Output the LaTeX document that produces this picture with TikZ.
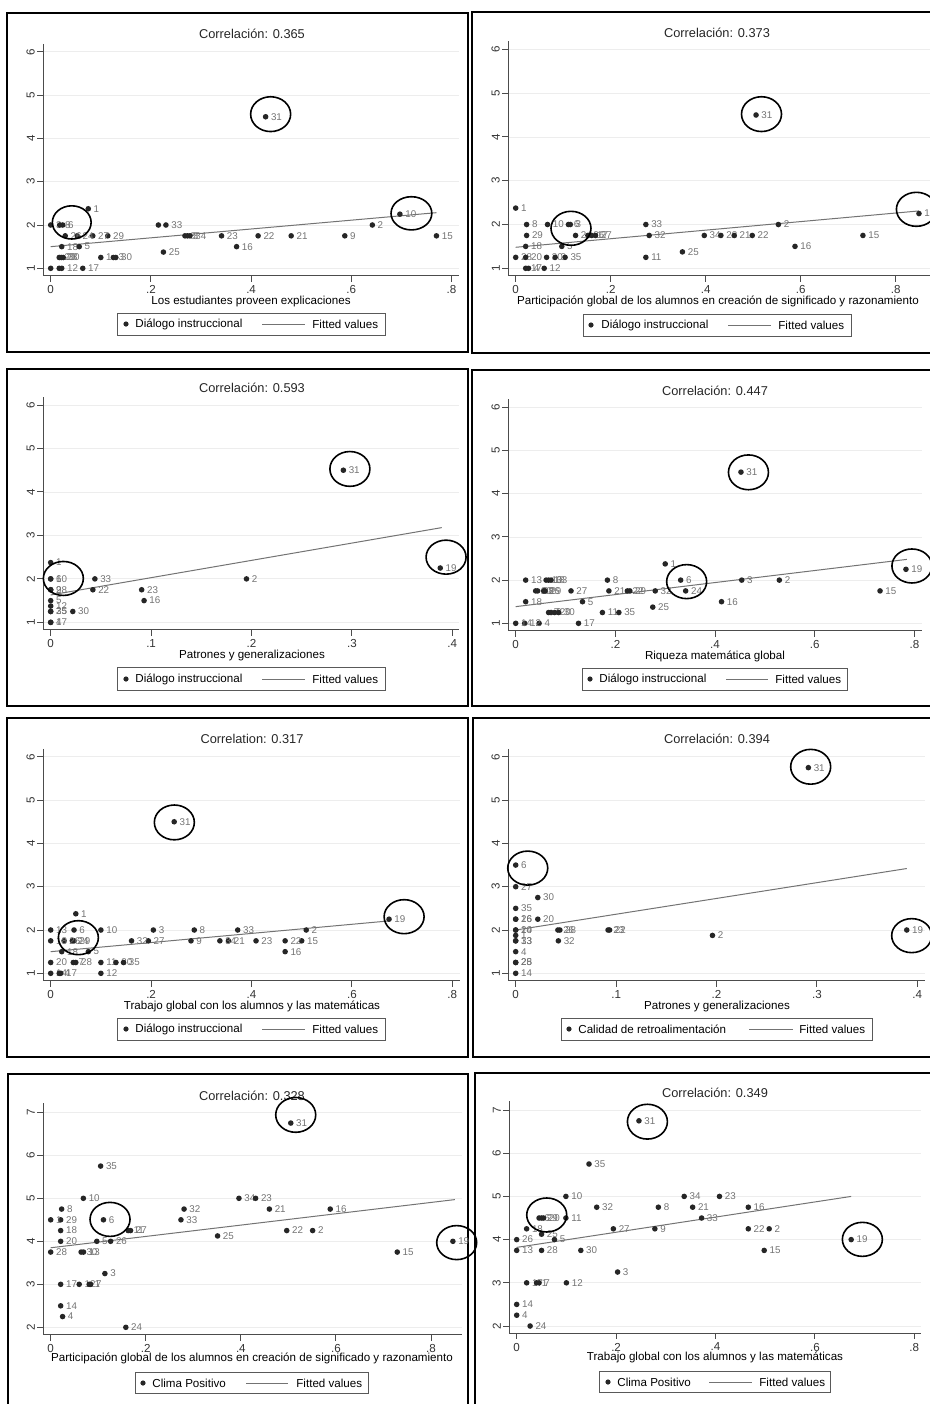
\documentclass[tikz,border=0pt]{standalone}
\usepackage{fontspec}
\setmainfont{Liberation Sans}
\tikzset{
  frame/.style={draw=black, line width=0.9pt},
  ttl/.style={font=\fontsize{6.4}{7.5}\selectfont, text=black!85},
  grd/.style={draw=black!7, line width=0.4pt},
  ax/.style={draw=black!70, line width=0.5pt},
  fitline/.style={draw=black!55, line width=0.5pt},
  ring/.style={draw=black, line width=0.8pt},
  lbl/.style={font=\fontsize{4.9}{5.5}\selectfont, text=black!55, anchor=west, inner sep=0pt, xshift=2.5pt},
  ylab/.style={rotate=90, anchor=south, inner sep=1pt, text=black!80},
  xlab/.style={below, inner sep=1.5pt, text=black!80},
  legbox/.style={draw=black!65, line width=0.5pt},
  legtxt/.style={anchor=west, inner sep=0pt},
}
\begin{document}
\begin{tikzpicture}[x=0.5pt, y=-0.5pt, font=\fontsize{5.8}{7}\selectfont]
\useasboundingbox (0,0) rectangle (930,1404);

% panel 1
\draw[frame] (7,13) rectangle (468,352);
\node[ttl] (t1) at (252,34) {Correlación: 0.365};
\node (xt1) at (251,301) {Los estudiantes proveen explicaciones};
\draw[legbox] (117,313) rectangle (385,335);
\fill[black!85] (126,324) circle (1.3pt);
\node[legtxt] (lg1) at (135,324) {Diálogo instruccional};
\draw[fitline] (262,324) -- (305,324);
\node[legtxt] (lf1) at (312,324) {Fitted values};
\begin{scope}[shift={(50.7,311.6)}, x=250.5pt, y=21.65pt]
\foreach \v in {1,...,6} {
  \draw[grd] ([xshift=-3.7pt]0,\v) -- (0.815,\v);
  \draw[ax] ([xshift=-3.7pt]0,\v) -- ++(-3pt,0) node[ylab] {\v};
}
\foreach \v/\t in {0/0,0.2/.2,0.4/.4,0.6/.6,0.8/.8}
  \draw[ax] ([yshift=-3.7pt]\v,1) -- ++(0,-3pt) node[xlab] {\t};
\draw[ax] ([shift={(-3.7pt,4pt)}]0,6) -- ([shift={(-3.7pt,-3.7pt)}]0,1) -- ([yshift=-3.7pt]0.815,1);
\draw[fitline] (0,1.5) -- (0.77,2.285);
\foreach \a/\b/\l in {0.429/4.5/31,0.075/2.375/1,0.697/2.25/10,0.642/2/2,0.770/1.75/15,0.587/1.75/9,
  0.48/1.75/21,0.414/1.75/22,0.341/1.75/23,0.371/1.5/16,0.225/1.375/25,0.215/2/,0.23/2/33,
  0.268/1.75/8,0.273/1.75/3,0.278/1.75/34,0.114/1.75/29,0.084/1.75/27,0.053/1.75/24,0.029/1.75/26,
  0/2/3,0.018/2/8,0.024/2/6,0.022/1.5/18,0.057/1.5/5,0.017/1.25/20,0.021/1.25/28,0.025/1.25/30,
  0.1/1.25/1,0.125/1.25/3,0.13/1.25/30,0/1/,0.017/1/,0.022/1/12,0.064/1/17}
  \fill[black!85] (\a,\b) circle (1.4pt) node[lbl] {\l};
\draw[ring] (0.439,4.56) ellipse [x radius=10pt, y radius=8.7pt];
\draw[ring] (0.042,2.06) ellipse [x radius=9.7pt, y radius=8.3pt];
\draw[ring] (0.72,2.27) ellipse [x radius=10.2pt, y radius=8.3pt];
\end{scope}

% panel 2
\draw[frame] (472,12) rectangle (934,353);
\node[ttl] (t2) at (717,33) {Correlación: 0.373};
\node (xt2) at (718,301) {Participación global de los alumnos en creación de significado y razonamiento};
\draw[legbox] (583,314) rectangle (851,336);
\fill[black!85] (591,325) circle (1.3pt);
\node[legtxt] (lg2) at (601,325) {Diálogo instruccional};
\draw[fitline] (728,325) -- (771,325);
\node[legtxt] (lf2) at (778,325) {Fitted values};
\begin{scope}[shift={(515.7,312.1)}, x=237.5pt, y=21.9pt]
\foreach \v in {1,...,6} {
  \draw[grd] ([xshift=-3.7pt]0,\v) -- (0.9,\v);
  \draw[ax] ([xshift=-3.7pt]0,\v) -- ++(-3pt,0) node[ylab] {\v};
}
\foreach \v/\t in {0/0,0.2/.2,0.4/.4,0.6/.6,0.8/.8}
  \draw[ax] ([yshift=-3.7pt]\v,1) -- ++(0,-3pt) node[xlab] {\t};
\draw[ax] ([shift={(-3.7pt,4pt)}]0,6) -- ([shift={(-3.7pt,-3.7pt)}]0,1) -- ([yshift=-3.7pt]0.9,1);
\draw[fitline] (0,1.48) -- (0.849,2.31);
\foreach \a/\b/\l in {0.506/4.5/31,0.849/2.25/19,0/2.375/1,0.023/2/8,0.067/2/10,0.111/2/6,0.115/2/3,
  0.023/1.75/29,0.126/1.75/24,0.152/1.75/26,0.16/1.75/17,0.168/1.75/27,0.274/2/33,0.281/1.75/32,
  0.397/1.75/34,0.432/1.75/23,0.46/1.75/21,0.498/1.75/22,0.553/2/2,0.731/1.75/15,0.588/1.5/16,
  0.351/1.375/25,0.274/1.25/11,0.021/1.5/18,0.097/1.5/5,0/1.25/28,0.021/1.25/20,0.065/1.25/30,
  0.083/1.25/3,0.104/1.25/35,0.021/1/17,0.027/1/4,0.06/1/12}
  \fill[black!85] (\a,\b) circle (1.4pt) node[lbl] {\l};
\draw[ring] (0.5175,4.52) ellipse [x radius=10pt, y radius=8.7pt];
\draw[ring] (0.1164,1.913) ellipse [x radius=10pt, y radius=8.5pt];
\draw[ring] (0.8436,2.347) ellipse [x radius=10pt, y radius=8.5pt];
\end{scope}

% panel 3
\draw[frame] (7,369) rectangle (468,706);
\node[ttl] (t3) at (252,388) {Correlación: 0.593};
\node (xt3) at (252,655) {Patrones y generalizaciones};
\draw[legbox] (117,667) rectangle (385,690);
\fill[black!85] (126,679) circle (1.3pt);
\node[legtxt] (lg3) at (135,679) {Diálogo instruccional};
\draw[fitline] (262,679) -- (305,679);
\node[legtxt] (lf3) at (312,679) {Fitted values};
\begin{scope}[shift={(50.7,665.8)}, x=502pt, y=21.73pt]
\foreach \v in {1,...,6} {
  \draw[grd] ([xshift=-3.7pt]0,\v) -- (0.407,\v);
  \draw[ax] ([xshift=-3.7pt]0,\v) -- ++(-3pt,0) node[ylab] {\v};
}
\foreach \v/\t in {0/0,0.1/.1,0.2/.2,0.3/.3,0.4/.4}
  \draw[ax] ([yshift=-3.7pt]\v,1) -- ++(0,-3pt) node[xlab] {\t};
\draw[ax] ([shift={(-3.7pt,4pt)}]0,6) -- ([shift={(-3.7pt,-3.7pt)}]0,1) -- ([yshift=-3.7pt]0.407,1);
\draw[fitline] (0,1.63) -- (0.3895,3.18);
\foreach \a/\b/\l in {0.2915/4.5/31,0.388/2.25/19,0.195/2/2,0.044/2/33,0.042/1.75/22,0.0906/1.75/23,
  0.093/1.5/16,0.022/1.25/30,0/2.375/1,0/2/6,0/2/10,0/1.75/28,0/1.75/9,0/1.5/5,0/1.375/12,
  0/1.25/25,0/1.25/35,0/1/4,0/1/17}
  \fill[black!85] (\a,\b) circle (1.4pt) node[lbl] {\l};
\draw[ring] (0.298,4.53) ellipse [x radius=10pt, y radius=8.7pt];
\draw[ring] (0.3938,2.5) ellipse [x radius=10pt, y radius=8.5pt];
\draw[ring] (0.0126,2.01) ellipse [x radius=10pt, y radius=8.5pt];
\end{scope}

% panel 4
\draw[frame] (472,370) rectangle (934,706);
\node[ttl] (t4) at (715,391) {Correlación: 0.447};
\node (xt4) at (715,656) {Riqueza matemática global};
\draw[legbox] (582,668) rectangle (847,690);
\fill[black!85] (590,679) circle (1.3pt);
\node[legtxt] (lg4) at (599,679) {Diálogo instruccional};
\draw[fitline] (726,679) -- (768,679);
\node[legtxt] (lf4) at (775,679) {Fitted values};
\begin{scope}[shift={(515.7,666.5)}, x=249.2pt, y=21.6pt]
\foreach \v in {1,...,6} {
  \draw[grd] ([xshift=-3.7pt]0,\v) -- (0.815,\v);
  \draw[ax] ([xshift=-3.7pt]0,\v) -- ++(-3pt,0) node[ylab] {\v};
}
\foreach \v/\t in {0/0,0.2/.2,0.4/.4,0.6/.6,0.8/.8}
  \draw[ax] ([yshift=-3.7pt]\v,1) -- ++(0,-3pt) node[xlab] {\t};
\draw[ax] ([shift={(-3.7pt,4pt)}]0,6) -- ([shift={(-3.7pt,-3.7pt)}]0,1) -- ([yshift=-3.7pt]0.815,1);
\draw[fitline] (0,1.386) -- (0.785,2.48);
\foreach \a/\b/\l in {0.452/4.5/31,0.783/2.25/19,0.3/2.375/1,0.331/2/6,0.4535/2/3,0.529/2/2,
  0.731/1.75/15,0.413/1.5/16,0.275/1.375/25,0.341/1.75/24,0.28/1.75/32,0.224/1.75/22,0.229/1.75/29,
  0.187/1.75/21,0.184/2/8,0.111/1.75/27,0.134/1.5/5,0.174/1.25/11,0.207/1.25/35,0.126/1/17,
  0.047/1/4,0.018/1/12,0/1/14,0.02/1.5/18,0.02/2/13,0.061/2/10,0.066/2/18,0.071/2/33,
  0.04/1.75/20,0.044/1.75/28,0.056/1.75/26,0.059/1.75/29,0.066/1.25/7,0.071/1.25/9,
  0.078/1.25/20,0.086/1.25/30}
  \fill[black!85] (\a,\b) circle (1.4pt) node[lbl] {\l};
\draw[ring] (0.467,4.495) ellipse [x radius=10pt, y radius=8.7pt];
\draw[ring] (0.343,1.965) ellipse [x radius=10pt, y radius=8.5pt];
\draw[ring] (0.795,2.327) ellipse [x radius=10pt, y radius=8.5pt];
\end{scope}

% panel 5
\draw[frame] (7,718) rectangle (468,1057);
\node[ttl] (t5) at (252,739) {Correlation: 0.317};
\node (xt5) at (252,1006) {Trabajo global con los alumnos y las matemáticas};
\draw[legbox] (117,1018) rectangle (385,1040);
\fill[black!85] (126,1029) circle (1.3pt);
\node[legtxt] (lg5) at (135,1029) {Diálogo instruccional};
\draw[fitline] (262,1029) -- (305,1029);
\node[legtxt] (lf5) at (312,1029) {Fitted values};
\begin{scope}[shift={(50.7,1016.6)}, x=251pt, y=21.65pt]
\foreach \v in {1,...,6} {
  \draw[grd] ([xshift=-3.7pt]0,\v) -- (0.815,\v);
  \draw[ax] ([xshift=-3.7pt]0,\v) -- ++(-3pt,0) node[ylab] {\v};
}
\foreach \v/\t in {0/0,0.2/.2,0.4/.4,0.6/.6,0.8/.8}
  \draw[ax] ([yshift=-3.7pt]\v,1) -- ++(0,-3pt) node[xlab] {\t};
\draw[ax] ([shift={(-3.7pt,4pt)}]0,6) -- ([shift={(-3.7pt,-3.7pt)}]0,1) -- ([yshift=-3.7pt]0.815,1);
\draw[fitline] (0,1.5) -- (0.674,2.21);
\foreach \a/\b/\l in {0.246/4.5/31,0.674/2.25/19,0.05/2.375/1,0.509/2/2,0.3725/2/33,0.286/2/8,
  0.2045/2/3,0.1/2/10,0.0465/2/6,0/2/13,0.5/1.75/15,0.467/1.75/22,0.409/1.75/23,0.354/1.75/21,
  0.337/1.75/34,0.2795/1.75/9,0.1945/1.75/27,0.161/1.75/32,0.0465/1.75/29,0.043/1.75/24,
  0.0266/1.75/26,0/1.75/18,0.467/1.5/16,0.075/1.5/5,0.022/1.5/18,0/1.25/20,0.045/1.25/7,
  0.05/1.25/28,0.1/1.25/11,0.13/1.25/30,0.145/1.25/35,0/1/14,0.017/1/4,0.02/1/17,0.1/1/12}
  \fill[black!85] (\a,\b) circle (1.4pt) node[lbl] {\l};
\draw[ring] (0.2463,4.485) ellipse [x radius=10pt, y radius=8.7pt];
\draw[ring] (0.0551,1.823) ellipse [x radius=10pt, y radius=8.5pt];
\draw[ring] (0.704,2.308) ellipse [x radius=10pt, y radius=8.5pt];
\end{scope}

% panel 6
\draw[frame] (473,718) rectangle (934,1057);
\node[ttl] (t6) at (717,739) {Correlación: 0.394};
\node (xt6) at (717,1006) {Patrones y generalizaciones};
\draw[legbox] (561,1018) rectangle (872,1040);
\fill[black!85] (569,1029) circle (1.3pt);
\node[legtxt] (lg6) at (578,1029) {Calidad de retroalimentación};
\draw[fitline] (749,1029) -- (793,1029);
\node[legtxt] (lf6) at (799,1029) {Fitted values};
\begin{scope}[shift={(515.7,1016.6)}, x=502pt, y=21.65pt]
\foreach \v in {1,...,6} {
  \draw[grd] ([xshift=-3.7pt]0,\v) -- (0.408,\v);
  \draw[ax] ([xshift=-3.7pt]0,\v) -- ++(-3pt,0) node[ylab] {\v};
}
\foreach \v/\t in {0/0,0.1/.1,0.2/.2,0.3/.3,0.4/.4}
  \draw[ax] ([yshift=-3.7pt]\v,1) -- ++(0,-3pt) node[xlab] {\t};
\draw[ax] ([shift={(-3.7pt,4pt)}]0,6) -- ([shift={(-3.7pt,-3.7pt)}]0,1) -- ([yshift=-3.7pt]0.408,1);
\draw[fitline] (0,2.0) -- (0.3895,3.42);
\foreach \a/\b/\l in {0.2915/5.75/31,0.3895/2/19,0/3.5/6,0/3/27,0.022/2.75/30,0/2.5/35,
  0.022/2.25/20,0/2.25/16,0/2.25/26,0/2/10,0/2/24,0/1.875/1,0/1.75/33,0/1.75/13,0/1.5/4,
  0/1.25/28,0/1.25/25,0/1/14,0.042/2/26,0.044/2/28,0.0425/1.75/32,0.092/2/23,0.0935/2/22,
  0.196/1.875/2}
  \fill[black!85] (\a,\b) circle (1.4pt) node[lbl] {\l};
\draw[ring] (0.2938,5.77) ellipse [x radius=10pt, y radius=8.7pt];
\draw[ring] (0.012,3.43) ellipse [x radius=10pt, y radius=8.5pt];
\draw[ring] (0.3944,1.87) ellipse [x radius=10pt, y radius=8.5pt];
\end{scope}

% panel 7
\draw[frame] (8,1074) rectangle (468,1410);
\node[ttl] (t7) at (252,1096) {Correlación: 0.328};
\node (xt7) at (252,1358) {Participación global de los alumnos en creación de significado y razonamiento};
\draw[legbox] (135,1372) rectangle (368,1393);
\fill[black!85] (143,1383) circle (1.3pt);
\node[legtxt] (lg7) at (152,1383) {Clima Positivo};
\draw[fitline] (246,1383) -- (288,1383);
\node[legtxt] (lf7) at (296,1383) {Fitted values};
\begin{scope}[shift={(50.7,1413.3)}, x=237.7pt, y=21.5pt]
\foreach \v in {2,...,7} {
  \draw[grd] ([xshift=-3.7pt]0,\v) -- (0.865,\v);
  \draw[ax] ([xshift=-3.7pt]0,\v) -- ++(-3pt,0) node[ylab] {\v};
}
\foreach \v/\t in {0/0,0.2/.2,0.4/.4,0.6/.6,0.8/.8}
  \draw[ax] ([yshift=-3.7pt]\v,2) -- ++(0,-3pt) node[xlab] {\t};
\draw[ax] ([shift={(-3.7pt,4.5pt)}]0,7) -- ([shift={(-3.7pt,-3.7pt)}]0,2) -- ([yshift=-3.7pt]0.865,2);
\draw[fitline] (0,3.85) -- (0.85,4.97);
\foreach \a/\b/\l in {0.505/6.75/31,0.846/4/19,0.729/3.75/15,0.588/4.75/16,0.551/4.25/2,
  0.4965/4.25/22,0.46/4.75/21,0.396/5/34,0.431/5/23,0.351/4.125/25,0.2805/4.75/32,0.274/4.5/33,
  0.105/5.75/35,0.0687/5/10,0.111/4.5/6,0.163/4.25/11,0.168/4.25/27,0.126/4/26,0.097/4/5,
  0.023/4.75/8,0.021/4.5/29,0/4.5/1,0.021/4.25/18,0.021/4/20,0/3.75/28,0.064/3.75/30,
  0.069/3.75/13,0.114/3.25/3,0.021/3/17,0.06/3/12,0.081/3/1,0.084/3/7,0.021/2.5/14,
  0.025/2.25/4,0.158/2/24}
  \fill[black!85] (\a,\b) circle (1.4pt) node[lbl] {\l};
\draw[ring] (0.5154,6.94) ellipse [x radius=10pt, y radius=8.7pt];
\draw[ring] (0.1248,4.51) ellipse [x radius=10pt, y radius=8.5pt];
\draw[ring] (0.854,3.97) ellipse [x radius=10pt, y radius=8.5pt];
\end{scope}

% panel 8
\draw[frame] (475,1073) rectangle (934,1410);
\node[ttl] (t8) at (715,1093) {Correlación: 0.349};
\node (xt8) at (715,1357) {Trabajo global con los alumnos y las matemáticas};
\draw[legbox] (599,1371) rectangle (830,1392);
\fill[black!85] (608,1382) circle (1.3pt);
\node[legtxt] (lg8) at (617,1382) {Clima Positivo};
\draw[fitline] (709,1382) -- (752,1382);
\node[legtxt] (lf8) at (759,1382) {Fitted values};
\begin{scope}[shift={(516.7,1412.4)}, x=248.5pt, y=21.6pt]
\foreach \v in {2,...,7} {
  \draw[grd] ([xshift=-3.7pt]0,\v) -- (0.8135,\v);
  \draw[ax] ([xshift=-3.7pt]0,\v) -- ++(-3pt,0) node[ylab] {\v};
}
\foreach \v/\t in {0/0,0.2/.2,0.4/.4,0.6/.6,0.8/.8}
  \draw[ax] ([yshift=-3.7pt]\v,2) -- ++(0,-3pt) node[xlab] {\t};
\draw[ax] ([shift={(-3.7pt,4.5pt)}]0,7) -- ([shift={(-3.7pt,-3.7pt)}]0,2) -- ([yshift=-3.7pt]0.8135,2);
\draw[fitline] (0,3.82) -- (0.673,5.0);
\foreach \a/\b/\l in {0.246/6.75/31,0.1455/5.75/35,0.099/5/10,0.337/5/34,0.408/5/23,
  0.161/4.75/32,0.285/4.75/8,0.354/4.75/21,0.466/4.75/16,0.372/4.5/33,0.099/4.5/11,
  0.045/4.5/6,0.05/4.5/29,0.054/4.5/20,0.02/4.25/18,0.1945/4.25/27,0.278/4.25/9,
  0.466/4.25/22,0.508/4.25/2,0.05/4.125/25,0/4/26,0.076/4/5,0.673/4/19,0/3.75/13,
  0.05/3.75/28,0.129/3.75/30,0.498/3.75/15,0.203/3.25/3,0.02/3/17,0.04/3/1,0.045/3/7,
  0.1/3/12,0/2.5/14,0/2.25/4,0.027/2/24}
  \fill[black!85] (\a,\b) circle (1.4pt) node[lbl] {\l};
\draw[ring] (0.263,6.73) ellipse [x radius=10pt, y radius=8.7pt];
\draw[ring] (0.0604,4.57) ellipse [x radius=10pt, y radius=8.5pt];
\draw[ring] (0.6955,4.006) ellipse [x radius=10pt, y radius=8.5pt];
\end{scope}
\end{tikzpicture}
\end{document}
